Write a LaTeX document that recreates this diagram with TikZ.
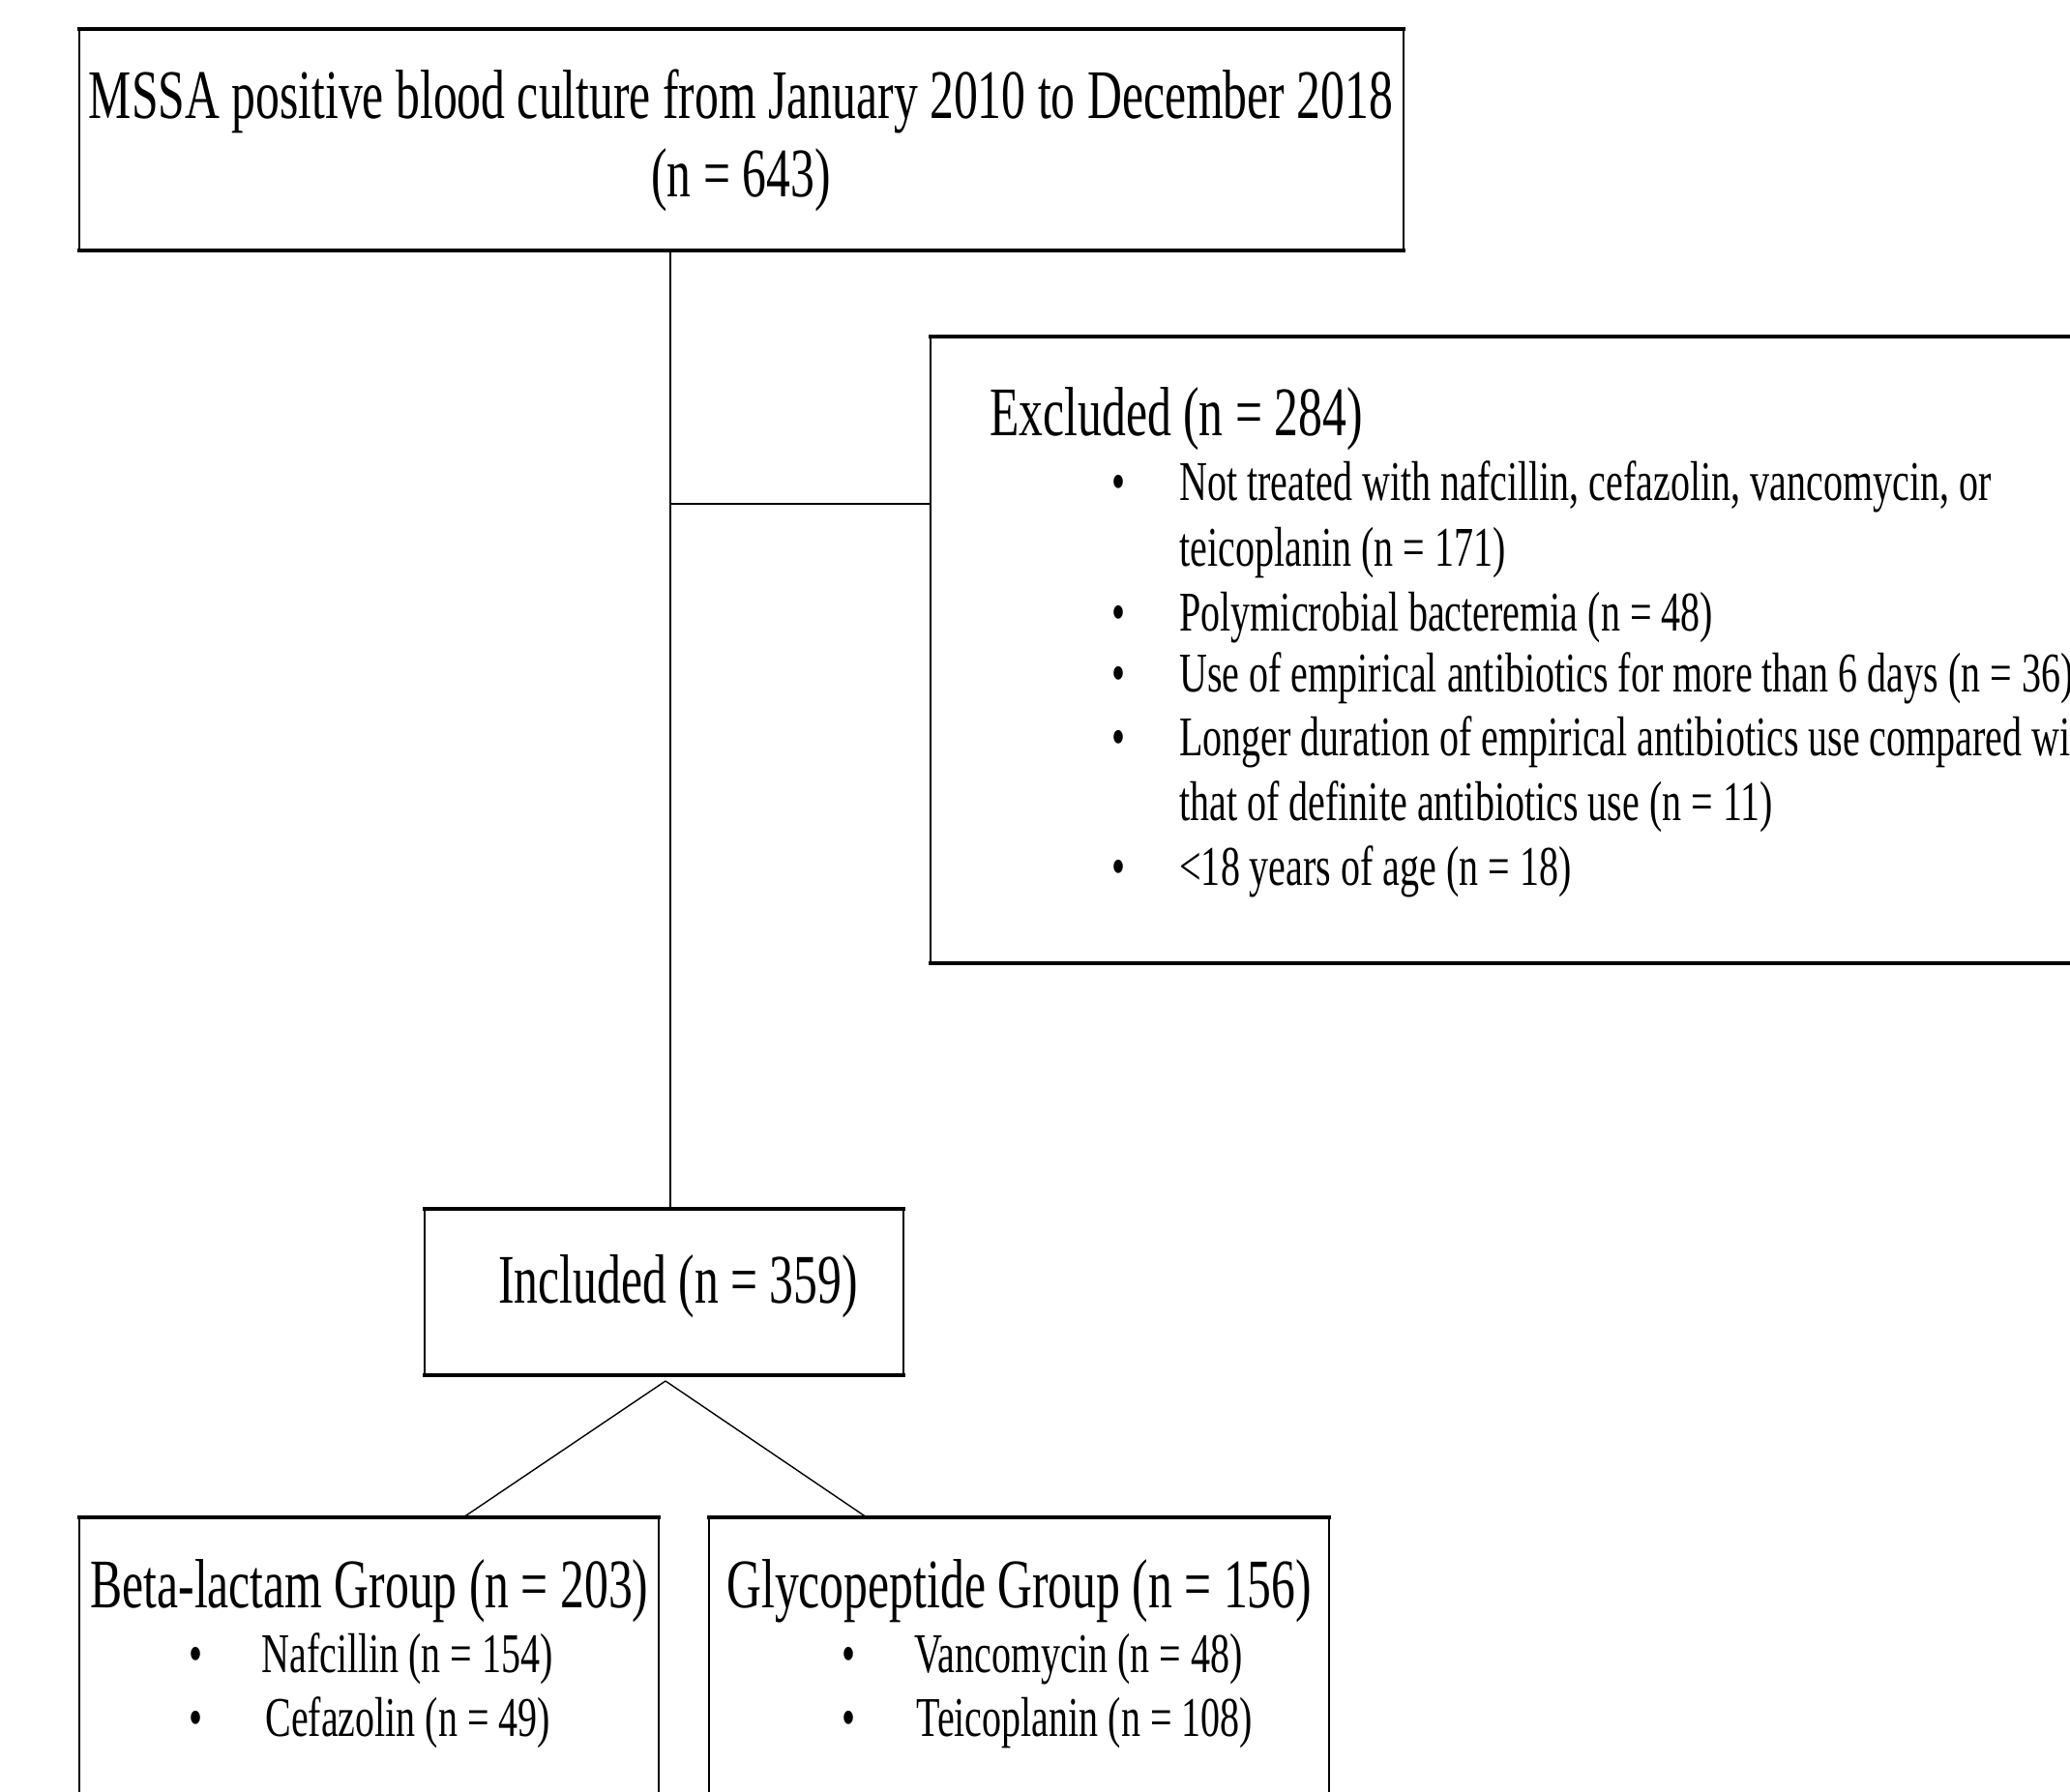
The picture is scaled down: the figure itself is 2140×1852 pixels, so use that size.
\documentclass[tikz,border=0pt]{standalone}
\usepackage{fontspec}
\setmainfont{Liberation Serif}[FakeStretch=0.69]
\usetikzlibrary{fit}
\begin{document}
\begin{tikzpicture}[x=0.5pt,y=-0.5pt,
  box/.style={draw, line width=1.25pt, inner sep=0pt, outer sep=0pt},
  hedge/.style={line width=2pt, line cap=rect},
  conn/.style={line width=0.7pt},
  big/.style={font=\fontsize{36}{40}\selectfont, inner sep=0pt, anchor=base west},
  bigc/.style={font=\fontsize{36}{40}\selectfont, inner sep=0pt, anchor=base},
  itm/.style={font=\fontsize{29}{33}\selectfont, inner sep=0pt, anchor=base west},
  bul/.style={font=\fontsize{29}{33}\selectfont, inner sep=0pt, anchor=base}]
\useasboundingbox (0,0) rectangle (2140,1852);
\clip (0,0) rectangle (2140,1852);
% boxes
\node[box, fit={(82,30) (1451,259)}] (top) {};
\node[box, fit={(962,348) (2200,996)}] (excl) {};
\node[box, fit={(439,1250) (934,1422)}] (incl) {};
\node[box, fit={(82,1569) (681,1900)}] (beta) {};
\node[box, fit={(733,1569) (1374,1900)}] (glyco) {};
\foreach \b in {top,excl,incl} {
  \draw[hedge] (\b.north west) -- (\b.north east);
  \draw[hedge] (\b.south west) -- (\b.south east);
}
\draw[hedge] (beta.north west) -- (beta.north east);
\draw[hedge] (glyco.north west) -- (glyco.north east);
% texts
\node[bigc] (t1) at (766,122) {MSSA positive blood culture from January 2010 to December 2018};
\node[bigc] (t2) at (766,203) {(n = 643)};
\node[big] (ex) at (1023,450) {Excluded (n = 284)};
\node[bul] (b1) at (1156,517) {•};
\node[itm] (e1a) at (1219,517) {Not treated with nafcillin, cefazolin, vancomycin, or};
\node[itm] (e1b) at (1219,585) {teicoplanin (n = 171)};
\node[bul] (b2) at (1156,652) {•};
\node[itm] (e2) at (1219,652) {Polymicrobial bacteremia (n = 48)};
\node[bul] (b3) at (1156,715) {•};
\node[itm] (e3) at (1219,715) {Use of empirical antibiotics for more than 6 days (n = 36)};
\node[bul] (b4) at (1156,781) {•};
\node[itm] (e4a) at (1219,781) {Longer duration of empirical antibiotics use compared with};
\node[itm] (e4b) at (1219,848) {that of definite antibiotics use (n = 11)};
\node[bul] (b5) at (1156,915) {•};
\node[itm] (e5) at (1219,915) {<18 years of age (n = 18)};
\node[big] (in) at (515,1347) {Included (n = 359)};
\node[big] (bt) at (93,1662) {Beta-lactam Group (n = 203)};
\node[bul] (bb1) at (203,1729) {•};
\node[itm] (bi1) at (270,1729) {Nafcillin (n = 154)};
\node[bul] (bb2) at (203,1795) {•};
\node[itm] (bi2) at (274,1795) {Cefazolin (n = 49)};
\node[big] (gt) at (751,1662) {Glycopeptide Group (n = 156)};
\node[bul] (gb1) at (877,1729) {•};
\node[itm] (gi1) at (945,1729) {Vancomycin (n = 48)};
\node[bul] (gb2) at (877,1795) {•};
\node[itm] (gi2) at (947,1795) {Teicoplanin (n = 108)};
% connectors
\coordinate (vx) at (693,0);
\coordinate (br) at (693,521);
\coordinate (apex) at (688,1428);
\coordinate (bl) at (479,0);
\coordinate (gr) at (896,0);
\draw[conn] (top.south -| vx) -- (incl.north -| vx);
\draw[conn] (br) -- (br -| excl.west);
\draw[conn] (apex) -- (beta.north -| bl);
\draw[conn] (apex) -- (glyco.north -| gr);
\end{tikzpicture}
\end{document}
